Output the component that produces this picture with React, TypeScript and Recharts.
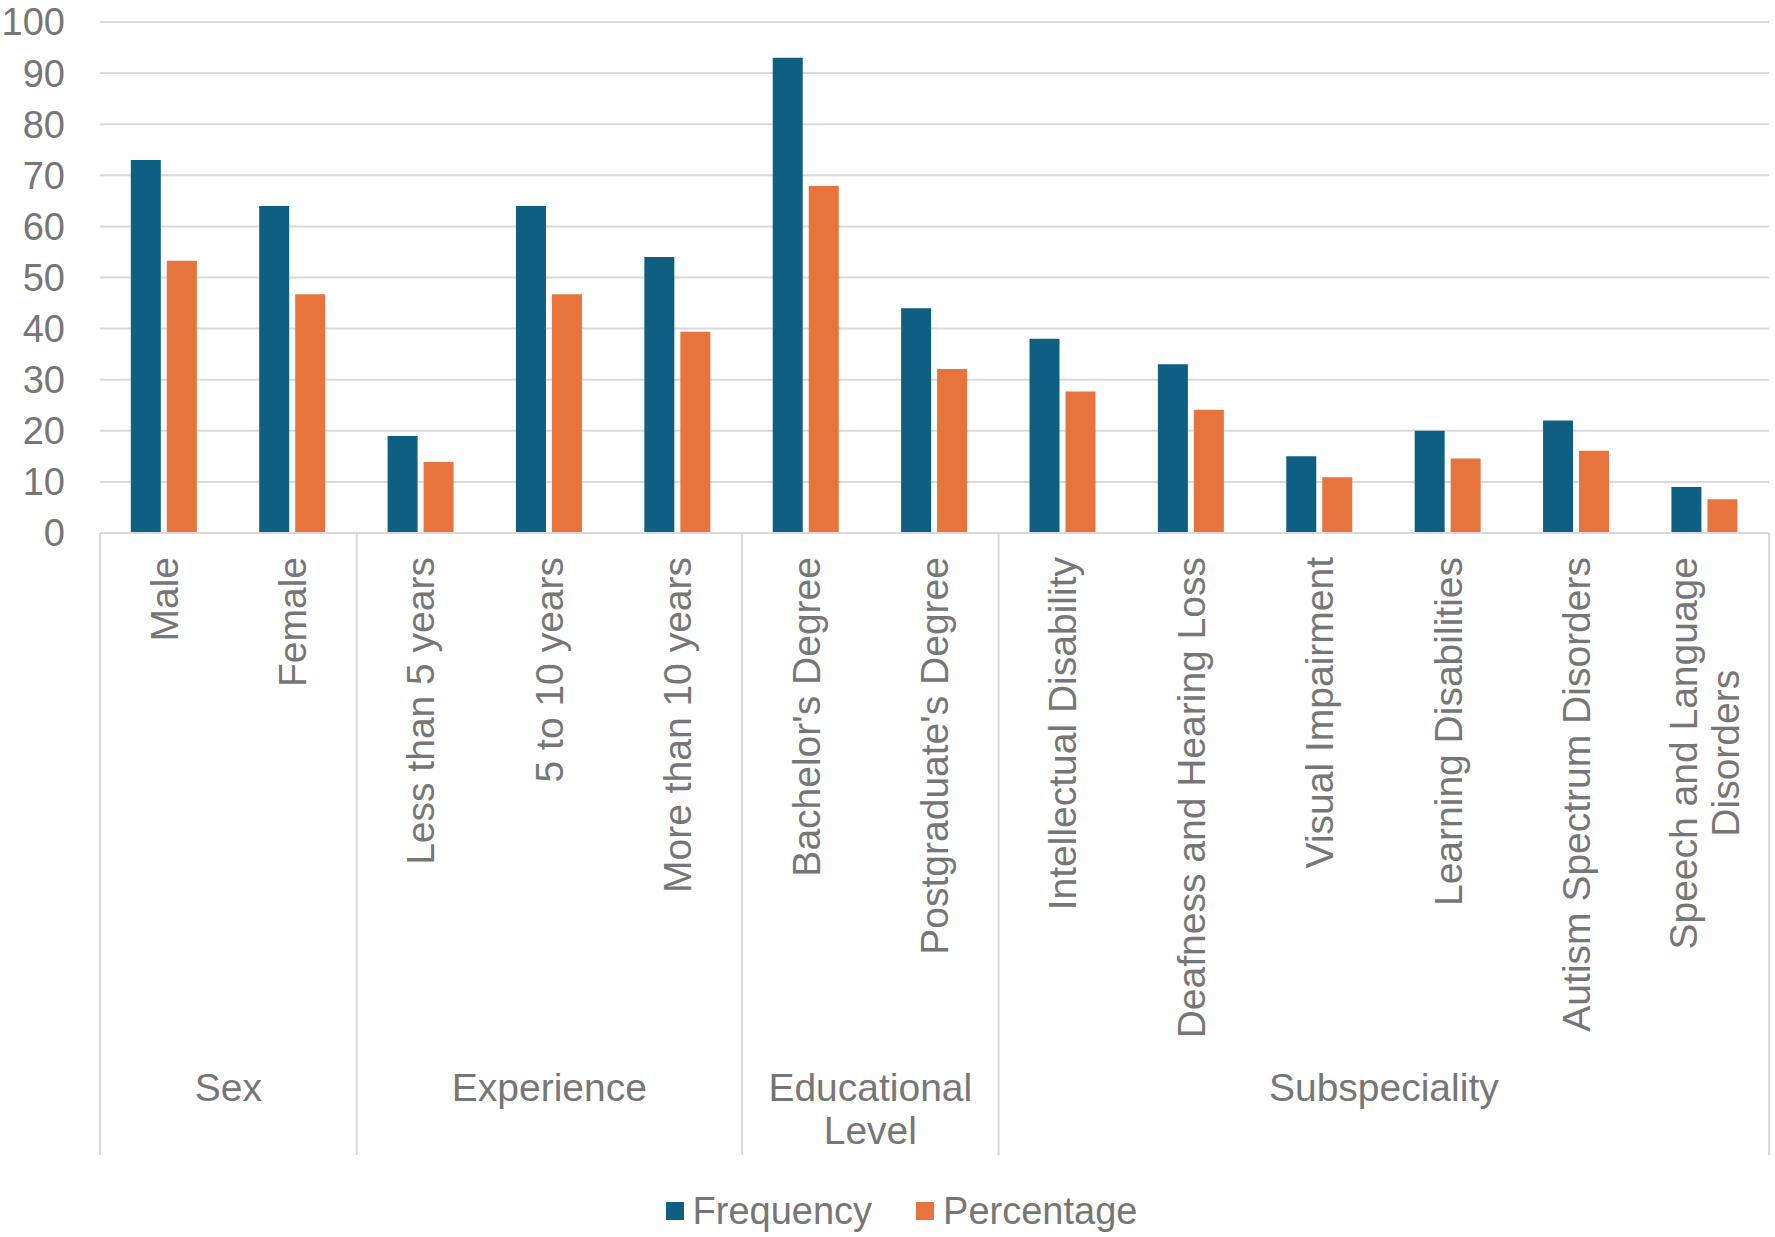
import React from 'react'
import { BarChart, Bar, XAxis, YAxis, CartesianGrid, Legend } from 'recharts'

const categories = [
  'Male',
  'Female',
  'Less than 5 years',
  '5 to 10 years',
  'More than 10 years',
  "Bachelor's Degree",
  "Postgraduate's Degree",
  'Intellectual Disability',
  'Deafness and Hearing Loss',
  'Visual Impairment',
  'Learning Disabilities',
  'Autism Spectrum Disorders',
  'Speech and Language Disorders',
]
const frequency = [73, 64, 19, 64, 54, 93, 44, 38, 33, 15, 20, 22, 9]
const percentage = [53.3, 46.7, 13.9, 46.7, 39.4, 67.9, 32.1, 27.7, 24.1, 10.9, 14.6, 16.1, 6.6]
const groups = ['Sex', 'Experience', 'Educational Level', 'Subspeciality']
const groupIndex = [0, 0, 1, 1, 1, 2, 2, 3, 3, 3, 3, 3, 3]
const yTicks = [0, 10, 20, 30, 40, 50, 60, 70, 80, 90, 100]

const data = categories.map((name, i) => ({
  name,
  frequency: frequency[i],
  percentage: percentage[i],
}))

const W = 1775
const H = 1237
const MARGIN = { top: 22, right: 6, bottom: 0, left: 0 }
const Y_WIDTH = 100
const LEGEND_H = 52
const PLOT_BOTTOM = 533
const X_HEIGHT = H - LEGEND_H - PLOT_BOTTOM
const band = (W - MARGIN.right - MARGIN.left - Y_WIDTH) / categories.length

const TEXT = '#767676'
const RULE = '#D9D9D9'
const FONT = '"Liberation Sans", Arial, sans-serif'
const FS = 39

let ctx: CanvasRenderingContext2D | null = null
function measure(s: string) {
  if (!ctx) ctx = document.createElement('canvas').getContext('2d')
  if (!ctx) return s.length * FS * 0.5
  ctx.font = `${FS}px ${FONT}`
  return ctx.measureText(s).width
}

// simple word wrap, Excel style
function wrap(s: string, max: number) {
  const words = s.split(' ')
  const lines: string[] = []
  let cur = ''
  for (const w of words) {
    const next = cur ? cur + ' ' + w : w
    if (cur && measure(next) > max) {
      lines.push(cur)
      cur = w
    } else {
      cur = next
    }
  }
  if (cur) lines.push(cur)
  return lines
}

function CategoryTick(props: any) {
  const { x, y, payload } = props
  const i = props.index ?? payload.index
  const lines = wrap(String(payload.value), 520)
  const longest = Math.max(...lines.map(measure))
  const left = x - band / 2
  const g = groupIndex[i]
  const first = i === 0 || groupIndex[i - 1] !== g
  const last = i === categories.length - 1

  let groupLabel = null
  if (first) {
    const count = groupIndex.filter((v) => v === g).length
    const cx = left + (count * band) / 2
    groupLabel = wrap(groups[g], count * band - 30).map((t, k) => (
      <text key={k} x={cx} y={y + 554 + k * 43} textAnchor="middle" dominantBaseline="central" fill={TEXT} fontSize={FS}>
        {t}
      </text>
    ))
  }

  return (
    <g>
      {first && <line x1={left} x2={left} y1={y} y2={y + 622} stroke={RULE} strokeWidth={2} />}
      {last && <line x1={x + band / 2} x2={x + band / 2} y1={y} y2={y + 622} stroke={RULE} strokeWidth={2} />}
      <g transform={`translate(${x},${y + 24}) rotate(-90)`}>
        {lines.map((t, k) => (
          <text
            key={k}
            x={lines.length > 1 ? -longest / 2 : 0}
            y={(k - (lines.length - 1) / 2) * 42}
            textAnchor={lines.length > 1 ? 'middle' : 'end'}
            dominantBaseline="central"
            fill={TEXT}
            fontSize={FS}
          >
            {t}
          </text>
        ))}
      </g>
      {groupLabel}
    </g>
  )
}

function LegendContent(props: any) {
  const items = props.payload || []
  return (
    <div
      style={{
        height: LEGEND_H,
        display: 'flex',
        justifyContent: 'center',
        alignItems: 'center',
        gap: 44,
        paddingLeft: 34,
        fontSize: 38,
        color: TEXT,
        fontFamily: FONT,
      }}
    >
      {items.map((it: any) => (
        <div key={it.value} style={{ display: 'flex', alignItems: 'center', gap: 9 }}>
          <span style={{ width: 18, height: 18, background: it.color, display: 'inline-block' }} />
          <span>{it.value}</span>
        </div>
      ))}
    </div>
  )
}

export default function App() {
  return (
    <div style={{ width: W, height: H, fontFamily: FONT, background: '#fff' }}>
      <style>{'body{margin:0}'}</style>
      <BarChart width={W} height={H} data={data} margin={MARGIN} barCategoryGap="24%" barGap={6}>
        <CartesianGrid vertical={false} stroke={RULE} strokeWidth={2} />
        <XAxis
          dataKey="name"
          interval={0}
          height={X_HEIGHT}
          tickLine={false}
          tickSize={0}
          tickMargin={0}
          axisLine={{ stroke: RULE, strokeWidth: 2 }}
          tick={<CategoryTick />}
        />
        <YAxis
          domain={[0, 100]}
          ticks={yTicks}
          interval={0}
          width={Y_WIDTH}
          axisLine={false}
          tickLine={false}
          tickSize={0}
          tickMargin={35}
          tick={{ fill: TEXT, fontSize: 38 }}
        />
        <Legend verticalAlign="bottom" height={LEGEND_H} content={<LegendContent />} />
        <Bar dataKey="frequency" name="Frequency" fill="#0F5F82" isAnimationActive={false} />
        <Bar dataKey="percentage" name="Percentage" fill="#E7743D" isAnimationActive={false} />
      </BarChart>
    </div>
  )
}
